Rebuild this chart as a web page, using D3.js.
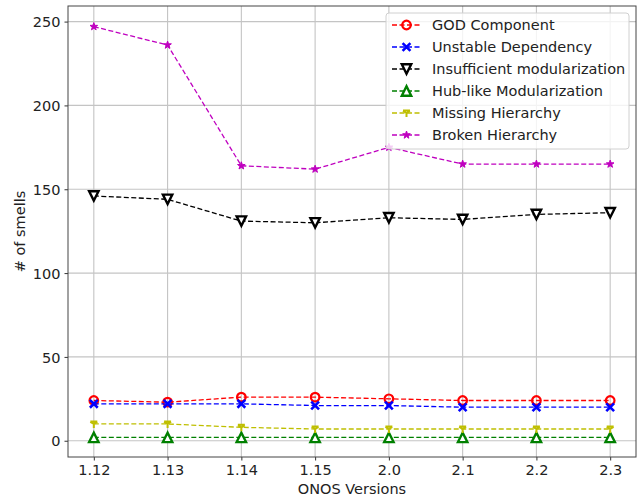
<!DOCTYPE html>
<html><head><meta charset="utf-8">
<script src="https://cdn.jsdelivr.net/npm/d3@7"></script>
<style>body{margin:0;background:#fff;} svg{display:block;font-family:"DejaVu Sans",sans-serif;}</style>
</head><body>
<svg id="chart" width="644" height="499"></svg>
<script>
const versions = ["1.12","1.13","1.14","1.15","2.0","2.1","2.2","2.3"];
const godComponent = [24,23,26,26,25,24,24,24];
const unstableDependency = [22,22,22,21,21,20,20,20];
const insufficientModularization = [146,144,131,130,133,132,135,136];
const hubLikeModularization = [2,2,2,2,2,2,2,2];
const missingHierarchy = [10,10,8,7,7,7,7,7];
const brokenHierarchy = [247,236,164,162,175,165,165,165];
const yTicks = [0,50,100,150,200,250];
const seriesNames = ["GOD Component","Unstable Dependency","Insufficient modularization","Hub-like Modularization","Missing Hierarchy","Broken Hierarchy"];

const series = [
  {name:seriesNames[0], values:godComponent, color:"#ff0000", marker:"circle"},
  {name:seriesNames[1], values:unstableDependency, color:"#0000ff", marker:"x"},
  {name:seriesNames[2], values:insufficientModularization, color:"#000000", marker:"tridown"},
  {name:seriesNames[3], values:hubLikeModularization, color:"#008000", marker:"triup"},
  {name:seriesNames[4], values:missingHierarchy, color:"#bfbf00", marker:"y"},
  {name:seriesNames[5], values:brokenHierarchy, color:"#bf00bf", marker:"star"}
];

const FS = "14.5px";
const svg = d3.select("#chart");
const L=68, R=636, T=6, B=457;
const x = d3.scaleLinear().domain([-0.35, versions.length-1+0.35]).range([L,R]);
const y = d3.scaleLinear().domain([-9.7, 259.3]).range([B,T]);

// grid
const g = svg.append("g");
g.selectAll(".vg").data(versions).enter().append("line")
  .attr("x1",(d,i)=>x(i)).attr("x2",(d,i)=>x(i)).attr("y1",T).attr("y2",B)
  .attr("stroke","#c4c4c4").attr("stroke-width",1.1);
g.selectAll(".hg").data(yTicks).enter().append("line")
  .attr("x1",L).attr("x2",R).attr("y1",d=>y(d)).attr("y2",d=>y(d))
  .attr("stroke","#c4c4c4").attr("stroke-width",1.1);

// axes
const xAxis = d3.axisBottom(x).tickValues(d3.range(versions.length)).tickFormat(i=>versions[i]).tickSize(3.5).tickPadding(4);
const yAxis = d3.axisLeft(y).tickValues(yTicks).tickSize(3.5).tickPadding(4);
const gx = svg.append("g").attr("transform",`translate(0,${B})`).call(xAxis);
const gy = svg.append("g").attr("transform",`translate(${L},0)`).call(yAxis);
[gx,gy].forEach(a=>{
  a.select(".domain").remove();
  a.selectAll("text").attr("font-size",FS).attr("fill","#222").attr("font-family","DejaVu Sans");
  a.selectAll("line").attr("stroke","#333");
});
gy.selectAll("text").attr("dy","0.36em");
svg.append("rect").attr("x",L).attr("y",T).attr("width",R-L).attr("height",B-T)
  .attr("fill","none").attr("stroke","#444").attr("stroke-width",1);

// labels
svg.append("text").attr("x",(L+R)/2).attr("y",494).attr("text-anchor","middle")
  .attr("font-size",FS).attr("fill","#222").text("ONOS Versions");
svg.append("text").attr("transform",`translate(25,${(T+B)/2}) rotate(-90)`).attr("text-anchor","middle")
  .attr("font-size",FS).attr("fill","#222").text("# of smells");

function drawMarker(sel, type, color){
  if(type==="circle"){
    sel.append("circle").attr("r",4.3).attr("fill","none").attr("stroke",color).attr("stroke-width",2.2);
  } else if(type==="x"){
    sel.append("path").attr("d","M-3.9,-3.9L3.9,3.9M-3.9,3.9L3.9,-3.9").attr("stroke",color).attr("stroke-width",2.6).attr("fill","none");
  } else if(type==="tridown"){
    sel.append("path").attr("d","M0,4.7L-4.7,-4.7L4.7,-4.7Z").attr("fill","#fff").attr("stroke",color).attr("stroke-width",2.4).attr("stroke-linejoin","miter");
  } else if(type==="triup"){
    sel.append("path").attr("d","M0,-4.7L-4.7,4.7L4.7,4.7Z").attr("fill","#fff").attr("stroke",color).attr("stroke-width",2.4).attr("stroke-linejoin","miter");
  } else if(type==="y"){
    sel.append("path").attr("d","M0,0L0,4M0,0L-3.5,-2M0,0L3.5,-2M-3.5,-2.5L3.5,-2.5").attr("stroke",color).attr("stroke-width",2).attr("fill","none");
  } else if(type==="star"){
    const pts=[];
    for(let k=0;k<10;k++){const r=k%2?1.6:4;const a=-Math.PI/2+k*Math.PI/5;pts.push([r*Math.cos(a),r*Math.sin(a)]);}
    sel.append("path").attr("d","M"+pts.map(p=>p.join(",")).join("L")+"Z").attr("fill",color).attr("stroke",color).attr("stroke-width",1);
  }
}

const line = d3.line().x((d,i)=>x(i)).y(d=>y(d));
series.forEach(s=>{
  const sg = svg.append("g");
  sg.append("path").datum(s.values).attr("d",line).attr("fill","none")
    .attr("stroke",s.color).attr("stroke-width",1.3).attr("stroke-dasharray","5,2.5");
  sg.selectAll("g.m").data(s.values).enter().append("g")
    .attr("transform",(d,i)=>`translate(${x(i)},${y(d)})`)
    .each(function(){drawMarker(d3.select(this), s.marker, s.color);});
});

// legend
const lg = svg.append("g");
lg.append("rect").attr("x",386).attr("y",13).attr("width",243).attr("height",136).attr("rx",3)
  .attr("fill","#fff").attr("fill-opacity",0.8).attr("stroke","#d0d0d0").attr("stroke-width",1);
series.forEach((s,i)=>{
  const cy = 25 + i*22;
  const e = lg.append("g");
  e.append("line").attr("x1",392).attr("x2",421).attr("y1",cy).attr("y2",cy)
    .attr("stroke",s.color).attr("stroke-width",1.3).attr("stroke-dasharray","5,2.5");
  const mg = e.append("g").attr("transform",`translate(406.5,${cy})`);
  drawMarker(mg, s.marker, s.color);
  e.append("text").attr("x",432).attr("y",cy).attr("dy","0.36em").attr("font-size",FS).attr("fill","#222").text(s.name);
});
</script>
</body></html>
